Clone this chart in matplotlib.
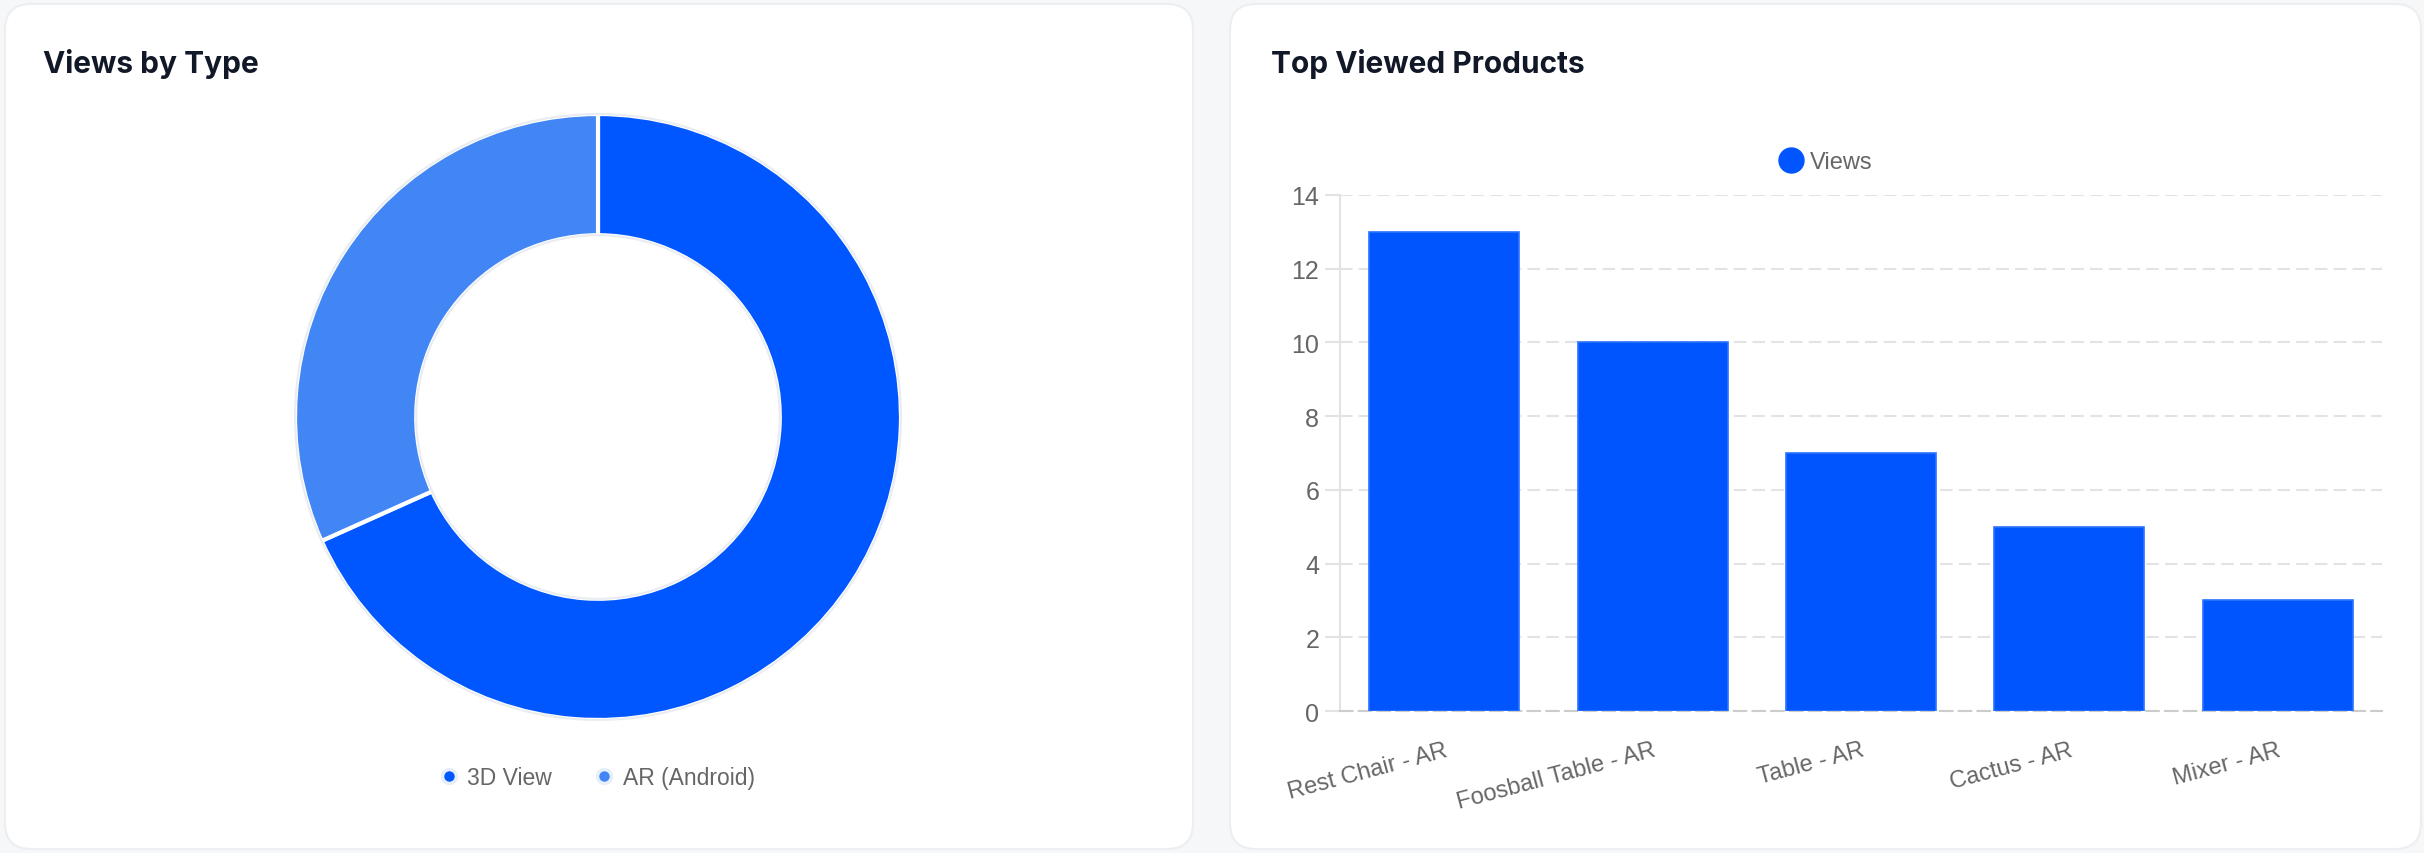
import matplotlib.pyplot as plt
from matplotlib.patches import FancyBboxPatch, Circle
from matplotlib.lines import Line2D

# data
types = ['3D View', 'AR (Android)']
type_views = [28, 13]
type_colors = ['#0057ff', '#4285f4']

products = ['Rest Chair - AR', 'Foosball Table - AR', 'Table - AR', 'Cactus - AR', 'Mixer - AR']
product_views = [13, 10, 7, 5, 3]
y_ticks = [0, 2, 4, 6, 8, 10, 12, 14]

W, H = 2424, 854
fig = plt.figure(figsize=(W / 100, H / 100), dpi=100, facecolor='#f6f7f8')
plt.rcParams['font.family'] = ['Liberation Sans', 'DejaVu Sans']

# card backgrounds
bg = fig.add_axes([0, 0, 1, 1])
bg.set_xlim(0, W)
bg.set_ylim(H, 0)
bg.axis('off')
for x0, x1 in [(5, 1193), (1230, 2421)]:
    bg.add_patch(FancyBboxPatch((x0, 5), x1 - x0, 845,
                                boxstyle='round,pad=0,rounding_size=26',
                                facecolor='white', edgecolor='#eceef1', lw=1.5))

fig.text(43 / W, 1 - 64 / H, 'Views by Type', fontsize=21.5, fontweight='bold',
         color='#111827', family=['Inter', 'DejaVu Sans'], va='center')
fig.text(1271 / W, 1 - 64 / H, 'Top Viewed Products', fontsize=21.5, fontweight='bold',
         color='#111827', family=['Inter', 'DejaVu Sans'], va='center')

# donut
cx, cy, r = 598, 418, 306
ax1 = fig.add_axes([(cx - r) / W, 1 - (cy + r) / H, 2 * r / W, 2 * r / H])
ax1.pie(type_views, colors=type_colors, startangle=90, counterclock=False,
        radius=1, wedgeprops=dict(width=0.4, edgecolor='white', linewidth=3))
ax1.add_patch(Circle((0, 0), 1.0, fill=False, edgecolor='#e9ecf0', lw=1.5))
ax1.add_patch(Circle((0, 0), 0.6, fill=False, edgecolor='#e9ecf0', lw=1.5))
ax1.set_xlim(-1.01, 1.01)
ax1.set_ylim(-1.01, 1.01)
ax1.set_aspect('equal')

handles = [Line2D([], [], marker='o', ls='', markersize=10, markerfacecolor=c,
                  markeredgecolor='#e6eefc', markeredgewidth=2.5) for c in type_colors]
fig.legend(handles, types, loc='center', bbox_to_anchor=(596 / W, 1 - 779 / H),
           ncol=2, frameon=False, fontsize=16.5, labelcolor='#666666',
           handletextpad=0.3, columnspacing=1.8, handlelength=1.0)

# bars
x0, x1, y0, y1 = 1340, 2382, 712, 196
ax2 = fig.add_axes([x0 / W, 1 - y0 / H, (x1 - x0) / W, (y0 - y1) / H])
ax2.bar(range(len(products)), product_views, width=0.72, color='#0055ff',
        edgecolor='#2b72ff', linewidth=1.2, label='Views', zorder=3)
ax2.set_xlim(-0.5, len(products) - 0.5)
ax2.set_ylim(0, 14)
ax2.set_yticks(y_ticks)
ax2.grid(axis='y', color='#e3e3e3', linestyle=(0, (6, 3)), linewidth=1.5, zorder=0)
ax2.set_xticks(range(len(products)))
ax2.set_xticklabels(products, rotation=15, ha='right', va='top', rotation_mode='anchor')
ax2.tick_params(axis='x', length=0, pad=20, labelsize=17, labelcolor='#666666')
ax2.tick_params(axis='y', length=11, width=1.5, color='#e3e3e3', pad=4,
                labelsize=18, labelcolor='#666666')
for s in ['top', 'right']:
    ax2.spines[s].set_visible(False)
ax2.spines['left'].set_color('#e3e3e3')
ax2.spines['left'].set_linewidth(1.5)
ax2.spines['bottom'].set_color('#cccccc')
ax2.spines['bottom'].set_linewidth(1.5)
ax2.spines['bottom'].set_linestyle((0, (6, 3)))

bh = [Line2D([], [], marker='o', ls='', markersize=18, markerfacecolor='#0055ff',
             markeredgecolor='#0055ff')]
fig.legend(bh, ['Views'], loc='center', bbox_to_anchor=(1826 / W, 1 - 163 / H),
           frameon=False, fontsize=17, labelcolor='#666666',
           handletextpad=0.3, handlelength=1.0)

fig.savefig('out.png', dpi=100, facecolor=fig.get_facecolor())
